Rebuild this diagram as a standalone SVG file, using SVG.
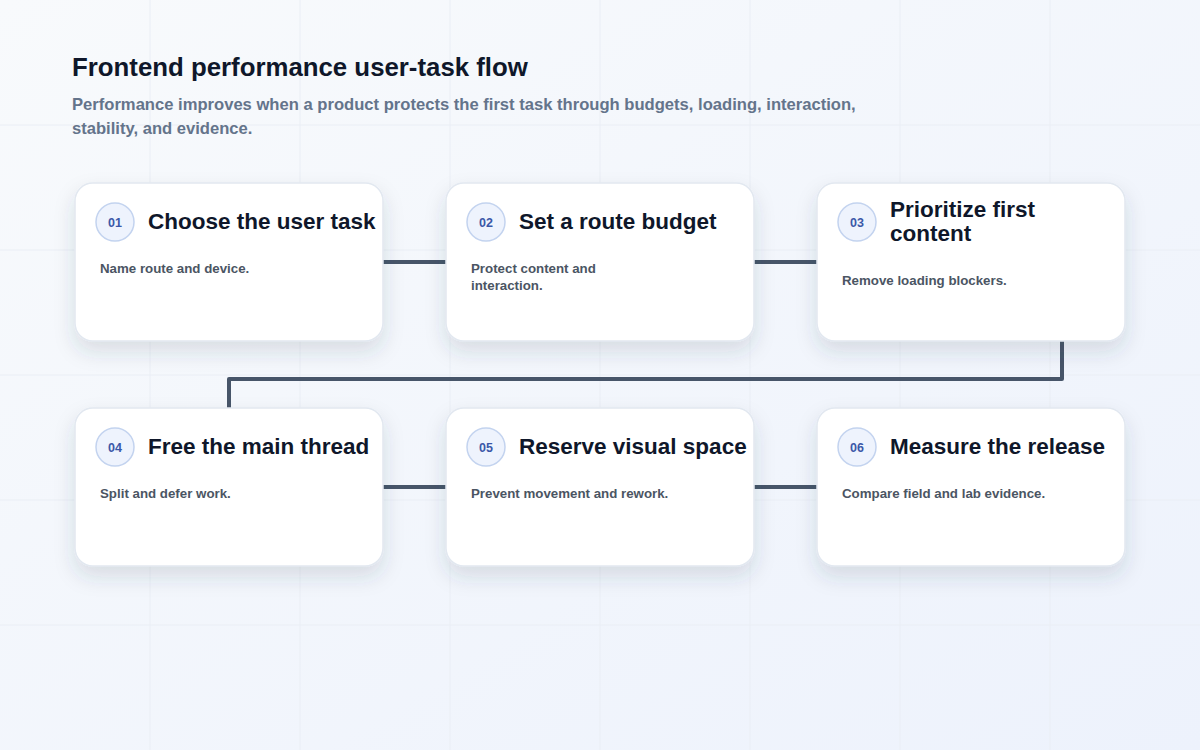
<svg xmlns="http://www.w3.org/2000/svg" width="1200" height="750" viewBox="0 0 1200 750">
  <defs>
    <linearGradient id="bg" x1="0" y1="0" x2="1" y2="1">
      <stop offset="0" stop-color="#f8fafc"/>
      <stop offset="1" stop-color="#edf2fc"/>
    </linearGradient>
    <filter id="shadow" x="-20%" y="-20%" width="140%" height="160%">
      <feDropShadow dx="0" dy="10" stdDeviation="10" flood-color="#334155" flood-opacity="0.14"/>
    </filter>
    <style>
      .grid line { stroke: #eaeef5; stroke-width: 1; }
      .card { fill: #ffffff; stroke: #e2e8f0; stroke-width: 1.5; filter: url(#shadow); }
      .badge { fill: #eef3fd; stroke: #c3d3ef; stroke-width: 1.5; }
      .num { font-family: "Liberation Sans", Arial, sans-serif; font-size: 12.5px; font-weight: 700; fill: #3b58a8; text-anchor: middle; }
      .ttl { font-family: "Liberation Sans", Arial, sans-serif; font-size: 22.5px; font-weight: 700; fill: #0f172a; }
      .desc { font-family: "Liberation Sans", Arial, sans-serif; font-size: 13.3px; font-weight: 700; fill: #4b5563; }
      .conn { fill: none; stroke: #475569; stroke-width: 4; stroke-linecap: butt; stroke-linejoin: round; }
      .h1 { font-family: "Liberation Sans", Arial, sans-serif; font-size: 25.8px; font-weight: 700; fill: #0f172a; }
      .sub { font-family: "Liberation Sans", Arial, sans-serif; font-size: 16.6px; font-weight: 700; fill: #64748b; }
    </style>
  </defs>
  <rect width="1200" height="750" fill="url(#bg)"/>
  <g class="grid">
    <line x1="150" y1="0" x2="150" y2="750"/>
    <line x1="300" y1="0" x2="300" y2="750"/>
    <line x1="450" y1="0" x2="450" y2="750"/>
    <line x1="600" y1="0" x2="600" y2="750"/>
    <line x1="750" y1="0" x2="750" y2="750"/>
    <line x1="900" y1="0" x2="900" y2="750"/>
    <line x1="1050" y1="0" x2="1050" y2="750"/>
    <line x1="0" y1="125" x2="1200" y2="125"/>
    <line x1="0" y1="250" x2="1200" y2="250"/>
    <line x1="0" y1="375" x2="1200" y2="375"/>
    <line x1="0" y1="500" x2="1200" y2="500"/>
    <line x1="0" y1="625" x2="1200" y2="625"/>
  </g>
  <g id="header">
    <text class="h1" x="72" y="76">Frontend performance user-task flow</text>
    <text class="sub" x="72" y="110">Performance improves when a product protects the first task through budgets, loading, interaction,</text>
    <text class="sub" x="72" y="134">stability, and evidence.</text>
  </g>
  <g id="connectors">
    <path class="conn" d="M383 262 H446"/>
    <path class="conn" d="M754 262 H817"/>
    <path class="conn" d="M1062 341 V379 H229 V408"/>
    <path class="conn" d="M383 487 H446"/>
    <path class="conn" d="M754 487 H817"/>
  </g>
  <g id="node1">
    <rect class="card" x="75" y="183" width="308" height="158" rx="18"/>
    <circle class="badge" cx="115" cy="222" r="19"/>
    <text class="num" x="115" y="226.5">01</text>
    <text class="ttl" x="148" y="229">Choose the user task</text>
    <text class="desc" x="100" y="273">Name route and device.</text>
  </g>
  <g id="node2">
    <rect class="card" x="446" y="183" width="308" height="158" rx="18"/>
    <circle class="badge" cx="486" cy="222" r="19"/>
    <text class="num" x="486" y="226.5">02</text>
    <text class="ttl" x="519" y="229">Set a route budget</text>
    <text class="desc" x="471" y="273">Protect content and</text>
    <text class="desc" x="471" y="290">interaction.</text>
  </g>
  <g id="node3">
    <rect class="card" x="817" y="183" width="308" height="158" rx="18"/>
    <circle class="badge" cx="857" cy="222" r="19"/>
    <text class="num" x="857" y="226.5">03</text>
    <text class="ttl" x="890" y="217">Prioritize first</text>
    <text class="ttl" x="890" y="241">content</text>
    <text class="desc" x="842" y="285">Remove loading blockers.</text>
  </g>
  <g id="node4">
    <rect class="card" x="75" y="408" width="308" height="158" rx="18"/>
    <circle class="badge" cx="115" cy="447" r="19"/>
    <text class="num" x="115" y="451.5">04</text>
    <text class="ttl" x="148" y="454">Free the main thread</text>
    <text class="desc" x="100" y="498">Split and defer work.</text>
  </g>
  <g id="node5">
    <rect class="card" x="446" y="408" width="308" height="158" rx="18"/>
    <circle class="badge" cx="486" cy="447" r="19"/>
    <text class="num" x="486" y="451.5">05</text>
    <text class="ttl" x="519" y="454">Reserve visual space</text>
    <text class="desc" x="471" y="498">Prevent movement and rework.</text>
  </g>
  <g id="node6">
    <rect class="card" x="817" y="408" width="308" height="158" rx="18"/>
    <circle class="badge" cx="857" cy="447" r="19"/>
    <text class="num" x="857" y="451.5">06</text>
    <text class="ttl" x="890" y="454">Measure the release</text>
    <text class="desc" x="842" y="498">Compare field and lab evidence.</text>
  </g>
</svg>
